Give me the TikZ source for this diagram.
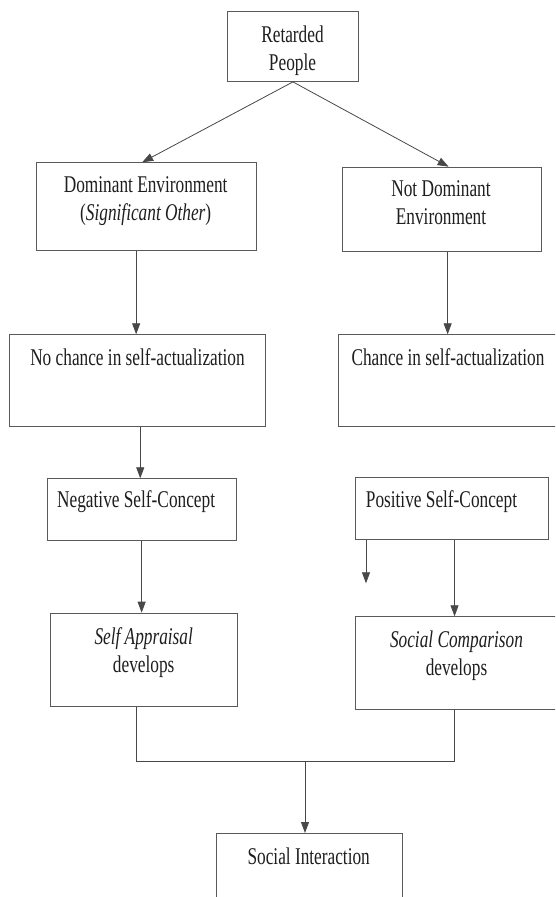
\documentclass[tikz,border=0pt]{standalone}
\usepackage{fontspec}
\setmainfont[FakeStretch=0.72]{Liberation Serif}
\usetikzlibrary{arrows.meta, calc, positioning}
\definecolor{boxgray}{HTML}{5A5A5A}
\definecolor{txtgray}{HTML}{1E1E1E}

\begin{document}
\begin{tikzpicture}[x=1pt, y=-1pt,
   box/.style={draw=boxgray, line width=0.9pt, anchor=north west, inner sep=0pt},
   lbl/.style={inner sep=0pt, align=center, text=txtgray, font=\fontsize{24}{28}\selectfont},
   arr/.style={draw=boxgray!80!black, line width=0.8pt, -{Triangle[width=8pt, length=11pt]}}]
   \path[use as bounding box, clip] (0,0) rectangle (555,897);
   % boxes
   \node[box, minimum width=131pt, minimum height=70pt] (ret) at (227,11) {};
   \node[box, minimum width=220pt, minimum height=88pt] (dom) at (35.7,162.3) {};
   \node[box, minimum width=199pt, minimum height=84pt] (notdom) at (341.7,166.7) {};
   \node[box, minimum width=256pt, minimum height=92pt] (nochance) at (9.3,334.3) {};
   \node[box, minimum width=222pt, minimum height=92pt] (chance) at (337.7,334.3) {};
   \node[box, minimum width=189pt, minimum height=62pt] (neg) at (46.7,478.3) {};
   \node[box, minimum width=193pt, minimum height=62pt] (pos) at (355,476.7) {};
   \node[box, minimum width=187pt, minimum height=93pt] (appr) at (50,612.7) {};
   \node[box, minimum width=203pt, minimum height=93pt] (comp) at (355,616.3) {};
   \node[box, minimum width=186pt, minimum height=90pt] (soc) at (215.7,833) {};
   % texts
   \node[lbl, anchor=north] (rettxt) at (292.5,25.3) {Retarded\\People};
   \node[lbl, anchor=north] (domtxt) at (145.7,176.6) {Dominant Environment\\(\textit{Significant Other})};
   \node[lbl, anchor=north] (notdomtxt) at (441,180.3) {Not Dominant\\Environment};
   \node[lbl, anchor=north] (nochancetxt) at (137.5,348.6) {No chance in self-actualization};
   \node[lbl, anchor=north] (chancetxt) at (448,348.6) {Chance in self-actualization};
   \node[lbl, anchor=north west] (negtxt) at (57,490.3) {Negative Self-Concept};
   \node[lbl, anchor=north west] (postxt) at (365.7,490.3) {Positive Self-Concept};
   \node[lbl, anchor=north] (apprtxt) at (143.7,627.3) {\textit{Self Appraisal}\\develops};
   \node[lbl, anchor=north] (comptxt) at (456.5,630.6) {\textit{Social Comparison}\\develops};
   \node[lbl, anchor=north] (soctxt) at (308.7,847.3) {Social Interaction};
   \coordinate (posend) at (366,583.3);
   \coordinate (join) at (305,761);
   % connectors
   \draw[arr] (ret.south) -- ([xshift=-4pt]dom.north);
   \draw[arr] (ret.south) -- ([xshift=7pt]notdom.north);
   \draw[arr] ([xshift=-10pt]dom.south) -- ([xshift=-10pt]dom.south |- nochance.north);
   \draw[arr] ([xshift=6pt]notdom.south) -- ([xshift=6pt]notdom.south |- chance.north);
   \draw[arr] ([xshift=2.5pt]nochance.south) -- ([xshift=2.5pt]nochance.south |- neg.north);
   \draw[arr] (neg.south) -- (neg.south |- appr.north);
   \draw[arr] ([xshift=2.6pt]pos.south) -- ([xshift=2.6pt]pos.south |- comp.north);
   \draw[arr] (posend |- pos.south) -- (posend);
   \draw[draw=boxgray!80!black, line width=0.8pt] ([xshift=-8pt]appr.south) |- ([xshift=-3pt]comp.south |- join) -- ([xshift=-3pt]comp.south);
   \draw[arr] (join) -- (join |- soc.north);
\end{tikzpicture}
\end{document}
